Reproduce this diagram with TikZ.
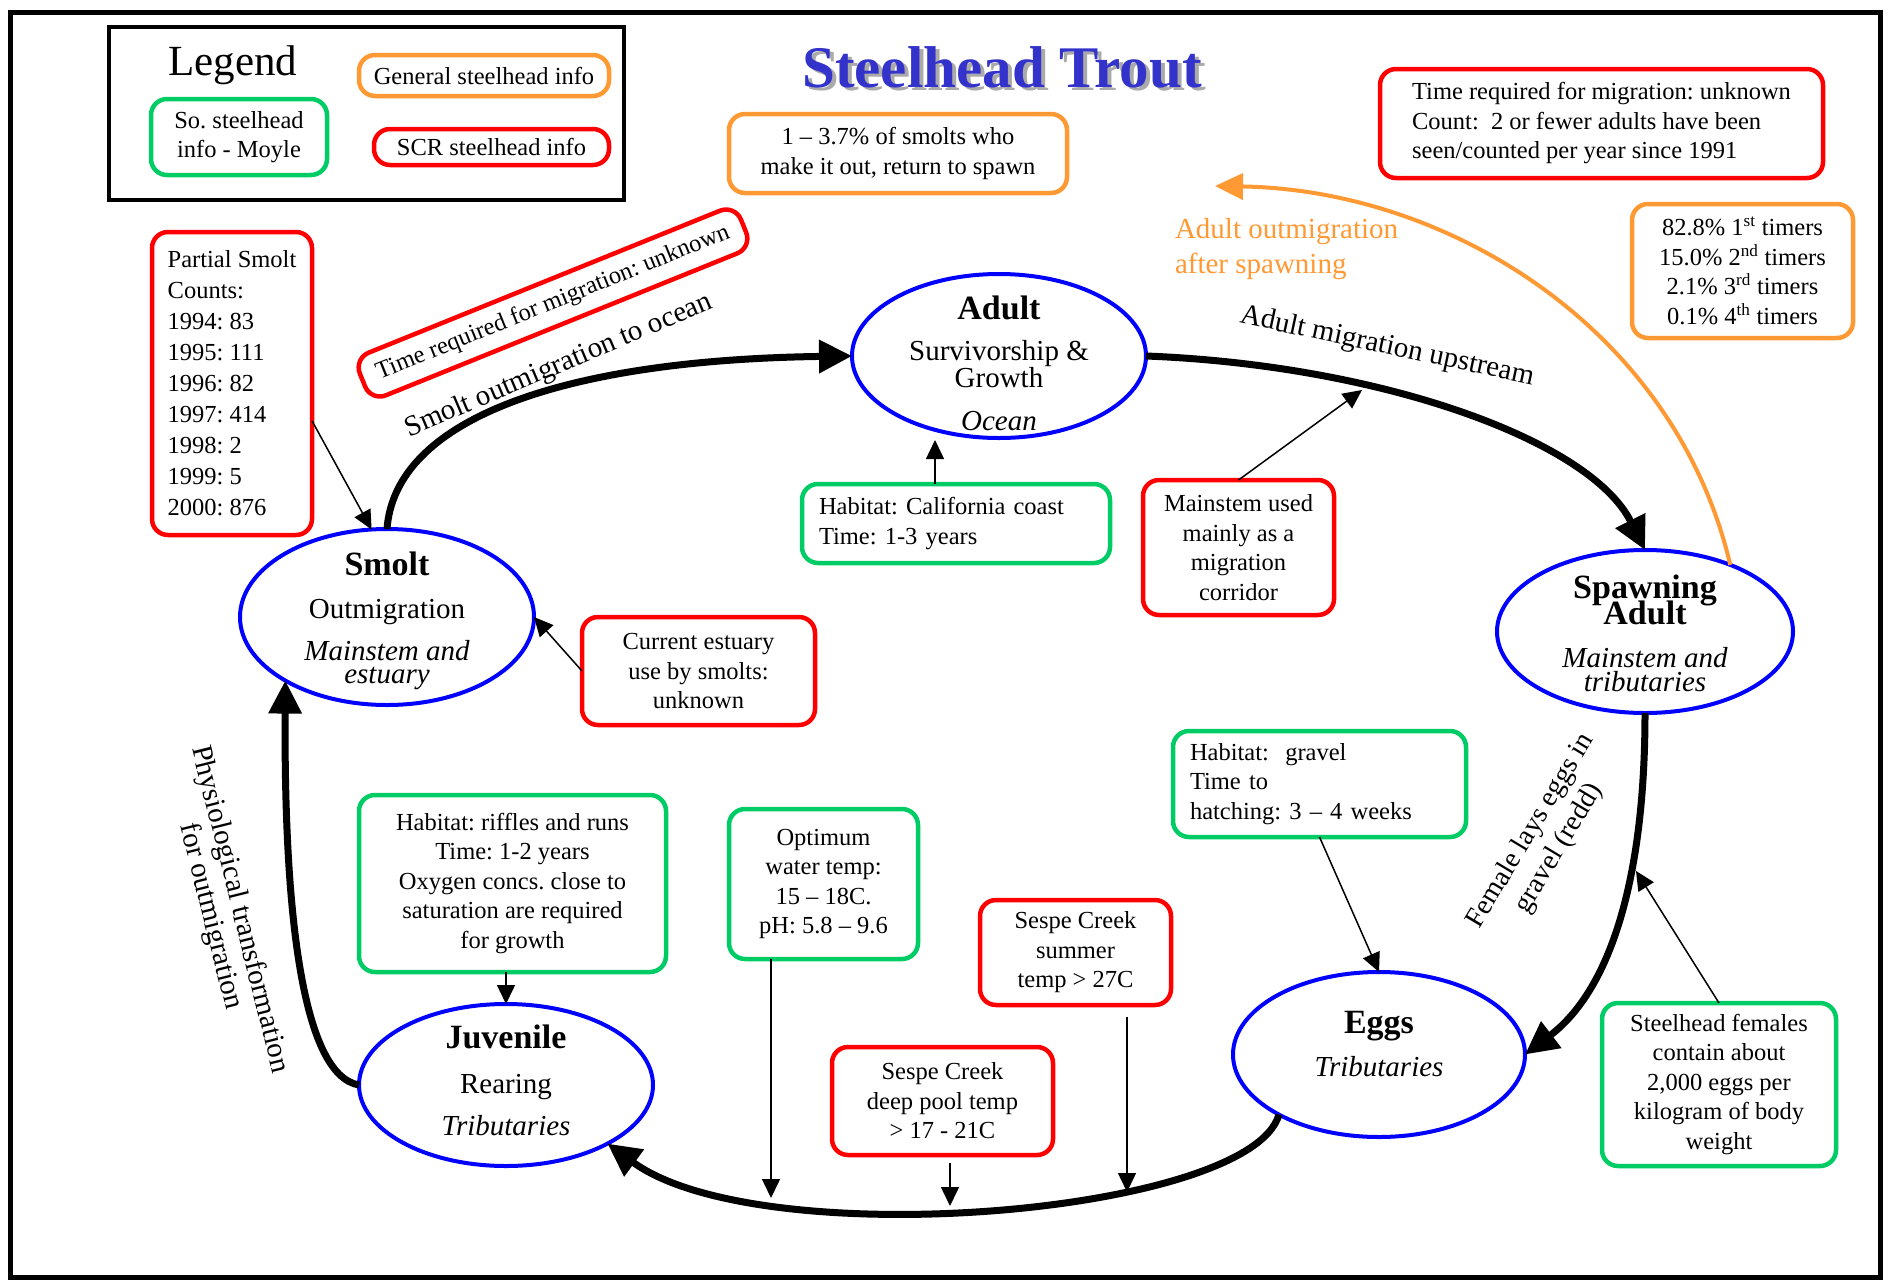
\documentclass[tikz,border=0pt]{standalone}
\usepackage{fontspec}
\setmainfont{Liberation Serif}
\usetikzlibrary{arrows.meta,shapes.geometric}
\definecolor{bgreen}{RGB}{0,204,102}
\definecolor{bred}{RGB}{255,0,0}
\definecolor{borange}{RGB}{255,153,51}
\definecolor{eblue}{RGB}{0,0,255}
\definecolor{tblue}{RGB}{51,51,204}
\definecolor{tshadow}{RGB}{170,170,170}
\frenchspacing
\begin{document}
\begin{tikzpicture}[x=1pt,y=-1pt,
  every node/.style={inner sep=0pt,outer sep=0pt},
  body/.style={font=\fontsize{24.5}{29.5}\selectfont},
  infobox/.style={draw,rounded corners=16pt,line width=4.5pt,fill=white,body,align=center},
  gbox/.style={infobox,draw=bgreen},
  rbox/.style={infobox,draw=bred},
  obox/.style={infobox,draw=borange},
  stage/.style={draw=eblue,line width=4pt,ellipse,inner sep=0pt},
  stitle/.style={anchor=base,font=\fontsize{34}{40}\selectfont\bfseries},
  ssub/.style={anchor=base,font=\fontsize{29}{34}\selectfont},
  splace/.style={anchor=base,font=\fontsize{29}{34}\selectfont\itshape},
  lifearrow/.style={line width=7pt,-{Triangle[length=33pt,width=32pt]}},
  infoarrow/.style={line width=1.5pt,-{Triangle[length=19pt,width=18pt]}},
  pathlabel/.style={font=\fontsize{29}{30}\selectfont,align=center},
]
\useasboundingbox (0,0) rectangle (1893,1280);
\fill[white] (0,0) rectangle (1893,1280);
% outer frame
\draw[line width=5pt] (10,12) rectangle (1880,1277);

% legend
\node[draw,line width=3.5pt,minimum width=515pt,minimum height=173pt] (legend) at (366.5,113.5) {};
\node[anchor=base,font=\fontsize{43}{48}\selectfont] (legendT) at (233,75) {Legend};
\node[obox,minimum width=250pt,minimum height=41pt] (legO) at (484,75.5) {General steelhead info};
\node[gbox,minimum width=176pt,minimum height=76pt] (legG) at (239,137) {So. steelhead\\info - Moyle};
\node[rbox,minimum width=235pt,minimum height=36pt] (legR) at (491.5,147) {SCR steelhead info};

% title
\node[anchor=base,font=\fontsize{59}{64}\selectfont\bfseries,text=tblue] (title) at (1002,87)
  {\makebox[0pt][l]{\hspace{4pt}\raisebox{-3pt}{\textcolor{tshadow}{Steelhead Trout}}}Steelhead Trout};

% info boxes
\node[obox,minimum width=338pt,minimum height=79pt] (ret) at (898,153.5) {1 – 3.7\% of smolts who\\make it out, return to spawn};
\node[rbox,align=left,minimum width=443pt,minimum height=109pt] (topred) at (1601.5,123.5)
  {Time required for migration: unknown\\Count:\ \ 2 or fewer adults have been\\seen/counted per year since 1991};
\node[obox,minimum width=221pt,minimum height=134pt] (timers) at (1742.5,271)
  {82.8\% 1\textsuperscript{st} timers\\15.0\% 2\textsuperscript{nd} timers\\2.1\% 3\textsuperscript{rd} timers\\0.1\% 4\textsuperscript{th} timers};
\node[rbox,align=left,font=\fontsize{24.5}{31}\selectfont,minimum width=160pt,minimum height=303pt] (partial) at (232,383.5)
  {Partial Smolt\\Counts:\\1994: 83\\1995: 111\\1996: 82\\1997: 414\\1998: 2\\1999: 5\\2000: 876};
\node[rbox,rotate=22,minimum width=411pt,minimum height=46pt] (migtime) at (553,303) {Time required for migration: unknown};
\node[rbox,minimum width=233pt,minimum height=108pt] (estuary) at (698.5,671) {Current estuary\\use by smolts:\\unknown};
\node[gbox,align=left,text width=274pt,minimum width=308pt,minimum height=79pt] (coast) at (956,523.5)
  {Habitat: California coast\\Time: 1-3 years};
\node[rbox,minimum width=191pt,minimum height=135pt] (corridor) at (1238.5,547.5) {Mainstem used\\mainly as a\\migration\\corridor};
\node[gbox,minimum width=307pt,minimum height=177pt] (riffles) at (512.5,883.5)
  {Habitat: riffles and runs\\Time: 1-2 years\\Oxygen concs. close to\\saturation are required\\for growth};
\node[gbox,minimum width=189pt,minimum height=150pt] (optimum) at (823.5,884) {Optimum\\water temp:\\15 – 18C.\\pH: 5.8 – 9.6};
\node[rbox,minimum width=221pt,minimum height=108pt] (pool) at (942.5,1101) {Sespe Creek\\deep pool temp\\\textgreater{} 17 - 21C};
\node[rbox,minimum width=191pt,minimum height=105pt] (summer) at (1075.5,952.5) {Sespe Creek\\summer\\temp \textgreater{} 27C};
\node[gbox,align=left,text width=259pt,minimum width=293pt,minimum height=106pt] (gravel) at (1319.5,784)
  {Habitat:\ \ gravel\\Time to\\hatching: 3 – 4 weeks};
\node[gbox,minimum width=234pt,minimum height=163pt] (females) at (1719,1084.5)
  {Steelhead females\\contain about\\2,000 eggs per\\kilogram of body\\weight};

% life stages
\node[stage,minimum width=294pt,minimum height=176pt] (smolt) at (387,617) {};
\node[stage,minimum width=294pt,minimum height=164pt] (adult) at (999,356) {};
\node[stage,minimum width=296pt,minimum height=163pt] (spawn) at (1645,631.5) {};
\node[stage,minimum width=292pt,minimum height=165pt] (eggs) at (1379,1054.5) {};
\node[stage,minimum width=294pt,minimum height=162pt] (juv) at (506,1085) {};

\node[stitle] (smoltT) at (387,575) {Smolt};
\node[ssub] (smoltS) at (387,618) {Outmigration};
\node[splace] (smoltP) at (387,660) {Mainstem and};
\node[splace] (smoltQ) at (387,683) {estuary};

\node[stitle] (adultT) at (999,319) {Adult};
\node[ssub] (adultS) at (999,360) {Survivorship \&};
\node[ssub] (adultR) at (999,387) {Growth};
\node[splace] (adultP) at (999,430) {Ocean};

\node[stitle] (spawnT) at (1645,598) {Spawning};
\node[stitle] (spawnU) at (1645,624) {Adult};
\node[splace] (spawnP) at (1645,667) {Mainstem and};
\node[splace] (spawnQ) at (1645,691) {tributaries};

\node[stitle] (eggsT) at (1379,1033) {Eggs};
\node[splace] (eggsP) at (1379,1076) {Tributaries};

\node[stitle] (juvT) at (506,1048) {Juvenile};
\node[ssub] (juvS) at (506,1093) {Rearing};
\node[splace] (juvP) at (506,1135) {Tributaries};

% cycle arrows
\draw[lifearrow] (smolt.north) .. controls (395,420) and (560,360) .. (adult.west);
\draw[lifearrow] (adult.east) .. controls (1380,365) and (1590,440) .. (spawn.north);
\draw[lifearrow] (spawn.south) .. controls (1645,880) and (1610,990) .. (eggs.east);
\draw[lifearrow] (eggs.211) .. controls (1250,1215) and (760,1255) .. (juv.330);
\draw[lifearrow] (juv.west) .. controls (300,1075) and (284,900) .. (smolt.212);

% cycle labels
\node[pathlabel,rotate=23] (lblSmolt) at (559,366) {Smolt outmigration to ocean};
\node[pathlabel,rotate=-12] (lblAdult) at (1387,347) {Adult migration upstream};
\node[pathlabel,rotate=59,font=\fontsize{28}{33}\selectfont] (lblFemale) at (1545,840) {Female lays eggs in\\gravel (redd)};
\node[pathlabel,rotate=-76] (lblPhys) at (225,913) {Physiological transformation\\for outmigration};

% orange outmigration
\coordinate (outTip) at (1215,186);
\draw[line width=4pt,borange,-{Triangle[length=28pt,width=26pt]}] (spawn.38) .. controls (1675,330) and (1450,190) .. (outTip);
\node[anchor=north west,align=left,text=borange,font=\fontsize{29}{35}\selectfont] (lblOut) at (1175,218) {Adult outmigration\\after spawning};

% info arrows
\coordinate (coastTip) at (935,440);
\coordinate (corrTip) at (1362,390);
\coordinate (optTip) at (771,1198);
\coordinate (poolTip) at (950,1206);
\coordinate (sumTip) at (1127,1192);
\coordinate (femTip) at (1636,871);
\draw[infoarrow] (partial.-25.7) -- (smolt.100);
\draw[infoarrow] (estuary.west) -- (smolt.east);
\draw[infoarrow] (coast.north -| coastTip) -- (coastTip);
\draw[infoarrow] (corridor.north) -- (corrTip);
\draw[infoarrow] (riffles.south -| juv.north) -- (juv.north);
\draw[infoarrow] (optimum.south -| optTip) -- (optTip);
\draw[infoarrow,shorten <=8pt] (pool.south -| poolTip) -- (poolTip);
\draw[infoarrow,shorten <=12pt] (summer.south -| sumTip) -- (sumTip);
\draw[infoarrow] (gravel.south) -- (eggs.north);
\draw[infoarrow] (females.north) -- (femTip);
\end{tikzpicture}
\end{document}
